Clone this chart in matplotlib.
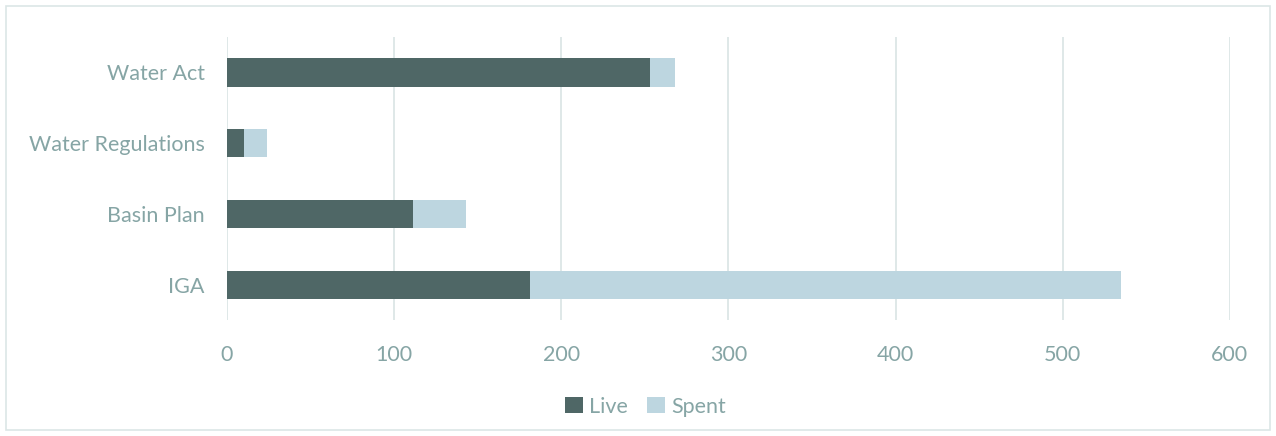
import matplotlib.pyplot as plt
from matplotlib.patches import Rectangle

# categories bottom to top
categories = ['IGA', 'Basin Plan', 'Water Regulations', 'Water Act']
live = [181, 111, 10, 253]
spent = [354, 32, 14, 15]
xticks = [0, 100, 200, 300, 400, 500, 600]

live_color = '#4F6766'
spent_color = '#BDD6E0'
text_color = '#86A5A5'
grid_color = '#DCE6E6'

plt.rcParams['font.family'] = ['Lato', 'DejaVu Sans']

fig = plt.figure(figsize=(12.76, 4.36), dpi=100)
ax = fig.add_axes([0.1779, 0.266, 0.786, 0.649])

# outer frame of the chart area
fig.patches.append(Rectangle((0.005, 0.014), 0.99, 0.972, transform=fig.transFigure,
                             fill=False, edgecolor=grid_color, linewidth=1.2))

ax.barh(categories, live, height=0.4, color=live_color, label='Live', zorder=3)
ax.barh(categories, spent, left=live, height=0.4, color=spent_color, label='Spent', zorder=3)

ax.set_xlim(0, 600)
ax.set_ylim(-0.5, 3.5)
ax.set_xticks(xticks)
ax.grid(axis='x', color=grid_color, linewidth=1.3, zorder=0)
for s in ax.spines.values():
    s.set_visible(False)
ax.tick_params(length=0, labelsize=15.5, colors=text_color, pad=16)
ax.tick_params(axis='x', pad=18)

leg = fig.legend(loc='lower center', bbox_to_anchor=(0.506, 0.0), ncol=2, frameon=False,
                 fontsize=15.5, handlelength=0.8, handleheight=0.8, handletextpad=0.3,
                 columnspacing=0.9)
for t in leg.get_texts():
    t.set_color(text_color)

fig.savefig('out.png', dpi=100)
